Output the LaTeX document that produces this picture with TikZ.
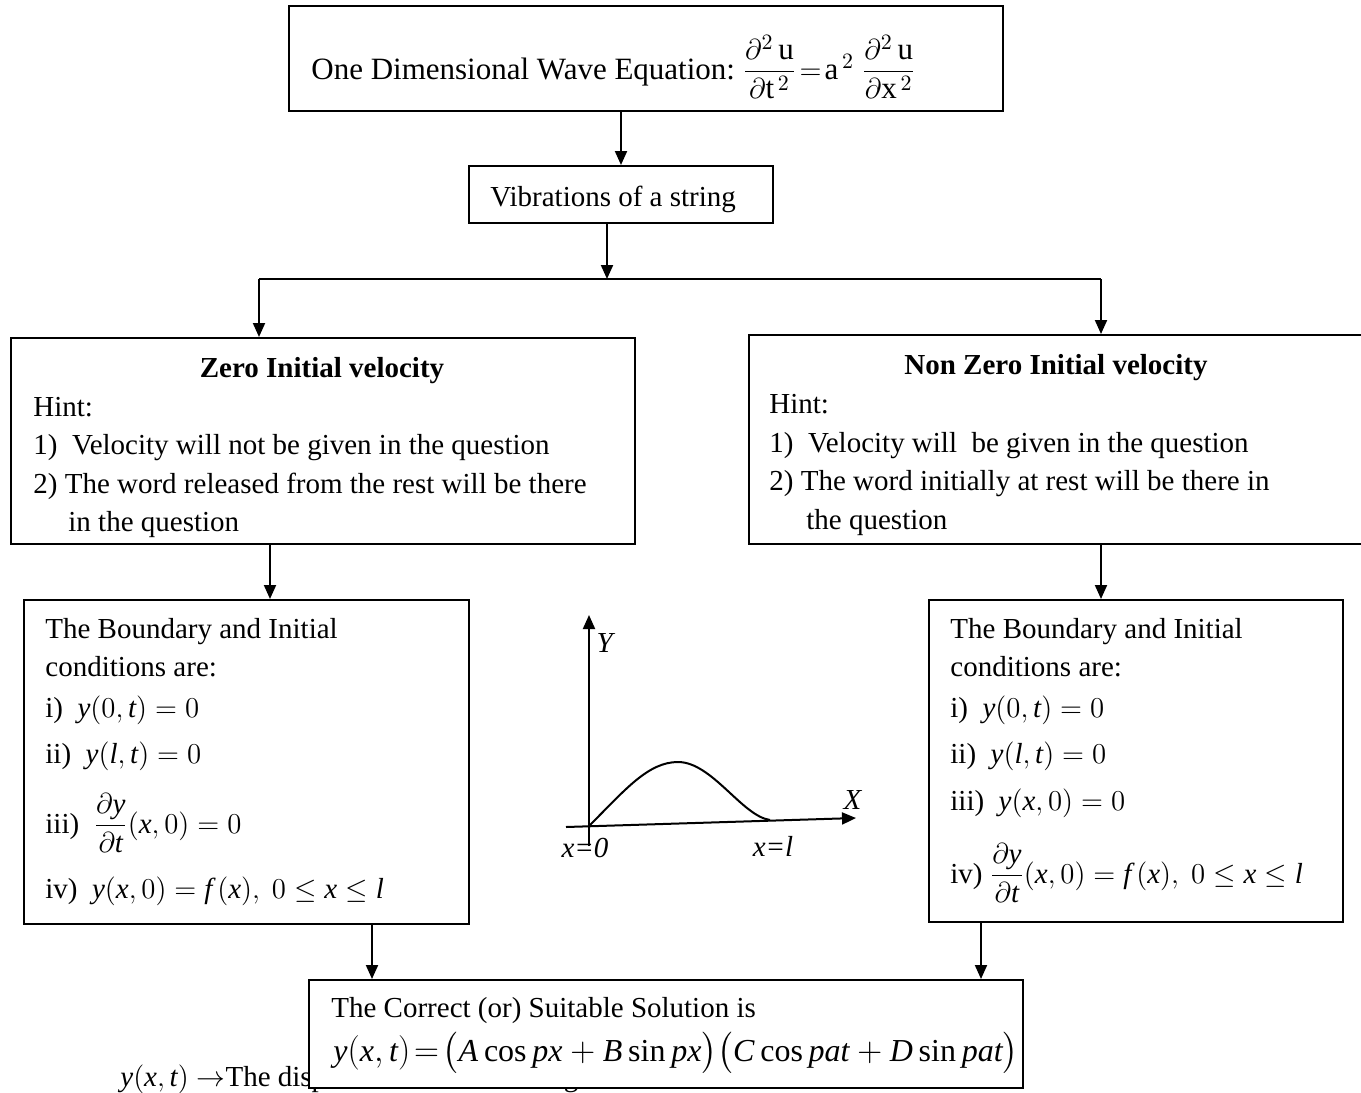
\documentclass[tikz,border=0pt]{standalone}
\usepackage{amsmath}
\usepackage{fontspec}
\setmainfont{Liberation Serif}
\usetikzlibrary{positioning, fit, arrows.meta}
\newcommand{\txtsize}{\fontsize{14.5}{19}\selectfont}
\newcommand{\mi}[1]{\mathit{#1}}

\begin{document}
\begin{tikzpicture}[
      % GLOBAL CFG
      x=0.5pt, y=-0.5pt,
      font=\txtsize,
      >={Triangle[length=7pt,width=6pt]},
      % Styles
      box/.style={% For the frames
        rectangle,
        draw,
        line width=1pt,
        fill=white,
        inner sep=0pt
      },
      line/.style={% One line of text
        anchor=base west,
        inner sep=0pt
      },
      head/.style={% Bold titles
        anchor=base,
        inner sep=0pt,
        font=\txtsize\bfseries
      },
      arrowflow/.style={
        line width=1pt,
        ->,
      },
      axis/.style={
        line width=1pt,
        ->,
      }
      ]
      \useasboundingbox (0,0) rectangle (1361,1093);

      % Top: the equation and the string
      \node [box, fit={(289,6) (1003,111)}] (wave) {};
      \node [line, font=\fontsize{15.5}{19}\selectfont] (wavetxt) at (311,79) {One Dimensional Wave Equation:\ $\dfrac{\partial^2\,\mathrm{u}}{\partial\mathrm{t}^{\,2}}\!=\!\mathrm{a}^{\,2}\;\dfrac{\partial^2\,\mathrm{u}}{\partial\mathrm{x}^{\,2}}$};
      \node [box, fit={(469,166) (773,223)}] (vib) {};
      \node [line] (vibtxt) at (490,206) {Vibrations of a string};

      % The two cases
      \node [box, fit={(11,338) (635,544)}] (zero) {};
      \node [head] (zerotitle) at (322,377) {Zero Initial velocity};
      \foreach \x/\y/\t [count=\i] in {33/416/{Hint:},
          33/454/{1)\ \ Velocity will not be given in the question},
          33/493/{2) The word released from the rest will be there},
          68/531/{in the question}}
        \node [line] (zerohint\i) at (\x,\y) {\t};

      \node [box, fit={(749,335) (1366,544)}] (nonzero) {};
      \node [head] (nonzerotitle) at (1056,374) {Non Zero Initial velocity};
      \foreach \x/\y/\t [count=\i] in {769/413/{Hint:},
          769/452/{1)\ \ Velocity will\ \ be given in the question},
          769/490/{2) The word initially at rest will be there in},
          806/529/{the question}}
        \node [line] (nonzerohint\i) at (\x,\y) {\t};

      % Boundary and initial conditions
      \node [box, fit={(24,600) (469,924)}] (zcond) {};
      \foreach \y/\t [count=\i] in {638/{The Boundary and Initial},
          676/{conditions are:},
          717/{i)\ \ $\mi{y}(0,\mi{t})=0$},
          763/{ii)\ \ $\mi{y}(\mi{l},\mi{t})=0$},
          833/{iii)\ \ $\dfrac{\partial \mi{y}}{\partial \mi{t}}(\mi{x},0)=0$},
          898/{iv)\ \ $\mi{y}(\mi{x},0)=\mi{f}\,(\mi{x}),\ 0\le \mi{x}\le \mi{l}$}}
        \node [line] (zcond\i) at (45,\y) {\t};

      \node [box, fit={(929,600) (1343,922)}] (nzcond) {};
      \foreach \y/\t [count=\i] in {638/{The Boundary and Initial},
          676/{conditions are:},
          717/{i)\ \ $\mi{y}(0,\mi{t})=0$},
          763/{ii)\ \ $\mi{y}(\mi{l},\mi{t})=0$},
          810/{iii)\ \ $\mi{y}(\mi{x},0)=0$},
          883/{iv)\ $\dfrac{\partial \mi{y}}{\partial \mi{t}}(\mi{x},0)=\mi{f}\,(\mi{x}),\ 0\le \mi{x}\le \mi{l}$}}
        \node [line] (nzcond\i) at (950,\y) {\t};

      % The string between the two
      \coordinate (O) at (589,826);
      \coordinate (ytop) at (589,615);
      \coordinate (ybot) at (589,846);
      \coordinate (xleft) at (566,827);
      \coordinate (xright) at (856,818);
      \coordinate (L) at (770,820);
      \draw [axis] (ybot) -- (ytop);
      \draw [axis] (xleft) -- (xright);
      \draw [line width=1pt] (O) .. controls (625,790) and (648,762) .. (678,762)
        .. controls (712,762) and (742,816) .. (L);
      \node (ylabel) at (606,643) {\textit{Y}};
      \node (xlabel) at (853,800) {\textit{X}};
      \node (x0) at (585,848) {\textit{x=0}};
      \node (xl) at (773,846) {\textit{x=l}};

      % Solution, drawn over the note below it
      \node [line] (note) at (120,1086) {$\mi{y}(\mi{x},\mi{t})\rightarrow$The displacement of the string};
      \node [box, fit={(309,980) (1023,1088)}] (sol) {};
      \node [line] (soltxt) at (331,1017) {The Correct (or) Suitable Solution is};
      \node [line, font=\fontsize{16}{19}\selectfont] (solform) at (333,1061) {$\mi{y}(\mi{x},\mi{t})\!=\!\bigl(\mi{A}\cos \mi{px}+\mi{B}\sin \mi{px}\bigr)\bigl(\mi{C}\cos \mi{pat}+\mi{D}\sin \mi{pat}\bigr)$};

      % Connectors
      \coordinate (split) at (607,279);
      \coordinate (lsplit) at (259,279);
      \coordinate (rsplit) at (1101,279);
      \coordinate (zcin) at ([xshift=11.75pt]zcond.north);
      \coordinate (nzcin) at ([xshift=-17.5pt]nzcond.north);
      \coordinate (solinl) at ([xshift=-147pt]sol.north);
      \coordinate (solinr) at ([xshift=157.5pt]sol.north);
      \draw [arrowflow] (vib |- wave.south) -- (vib.north);
      \draw [arrowflow] (vib.south -| split) -- (split);
      \draw [line width=1pt] (lsplit) -- (rsplit);
      \draw [arrowflow] (lsplit) -- (lsplit |- zero.north);
      \draw [arrowflow] (rsplit) -- (rsplit |- nonzero.north);
      \draw [arrowflow] (zero.south -| zcin) -- (zcin);
      \draw [arrowflow] (nonzero.south -| nzcin) -- (nzcin);
      \draw [arrowflow] (zcond.south -| solinl) -- (solinl);
      \draw [arrowflow] (nzcond.south -| solinr) -- (solinr);

\end{tikzpicture}
\end{document}
